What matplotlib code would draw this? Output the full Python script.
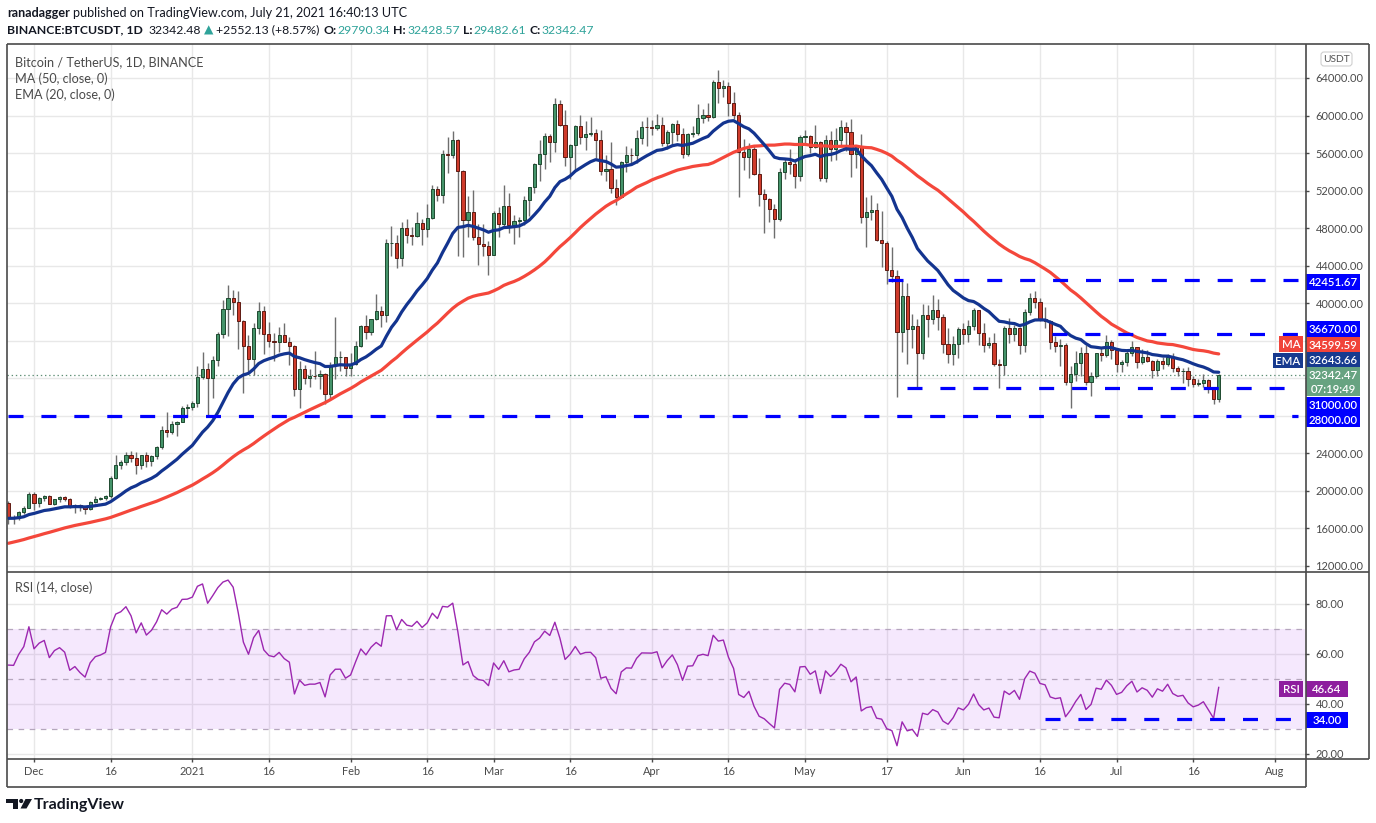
import matplotlib
matplotlib.use("Agg")
import matplotlib.pyplot as plt
import numpy as np
import pandas as pd
from matplotlib.patches import Rectangle, FancyBboxPatch, Polygon, Circle

plt.rcParams['font.family'] = ['Lato', 'DejaVu Sans']
plt.rcParams['lines.scale_dashes'] = False

# ---------------- data (BINANCE BTCUSDT, 1D) ----------------
# closes before the visible window (Sep 17 - Nov 25, 2020), only used to warm up indicators
warmup_closes = [
    10940, 10933, 11080, 10920, 10417, 10530, 10241, 10736, 10686, 10728,
    10775, 10709, 10845, 10776, 10620, 10570, 10547, 10666, 10792, 10600,
    10670, 10925, 11050, 11297, 11385, 11545, 11427, 11429, 11505, 11320,
    11362, 11505, 11751, 11910, 12801, 12966, 12931, 13109, 13032, 13071,
    13640, 13271, 13456, 13561, 13792, 13762, 13550, 14025, 14142, 15591,
    15580, 14840, 15479, 15332, 15290, 15701, 16277, 16317, 16068, 15957,
    16714, 17645, 17804, 17818, 18655, 18704, 18414, 18368, 19159, 18720,
]

# visible candles: Nov 26, 2020 ... Jul 21, 2021
opens = [
    18730, 17150, 17139, 17720, 18185,
    19696, 18765, 19205, 19422, 18650, 19148, 19359, 19166, 18324, 18541, 18254, 18036, 18808, 19175, 19273, 19426,
    21335, 22797, 23107, 23821, 23455, 22719, 23810, 23232, 23729, 24712, 26493, 26281, 27079, 27385, 28876,
    28923, 29331, 32178, 33000, 31988, 33949, 36769, 39432, 40582, 40088, 38150, 35404, 34051, 37371, 39144, 36742,
    35994, 35828, 36631, 35891, 35468, 30850, 32945, 32078, 32259, 32254, 32467, 30366, 33364, 34252, 34262,
    33092, 33526, 35466, 37618, 36936, 38290, 39186, 38795, 46374, 46420, 44807, 47969, 47287, 47153, 48577, 47911,
    49133, 52119, 51552, 55906, 55841, 57408, 54087, 48891, 49676, 47073, 46276, 46106,
    45135, 49587, 48440, 50349, 48374, 48751, 48882, 50971, 52376, 54885, 55851, 57773, 57221, 61188, 58968, 55605,
    56900, 58913, 57665, 58075, 58107, 57351, 54083, 54340, 52303, 51293, 55025, 55817, 55777, 57635, 58746,
    58740, 58721, 58959, 57059, 58202, 59130, 57991, 55953, 58077, 58142, 59770, 60007, 59860, 63575, 62959,
    63159, 61334, 60006, 56150, 55633, 56425, 53787, 51690, 51125, 50048, 49004, 54021, 55033, 54824, 53555,
    57750, 57828, 56631, 57200, 53333, 57424, 56397, 57356, 58803, 58232, 55859, 56704, 49150, 49716, 49880,
    46760, 46456, 43537, 42909, 36964, 40784, 37280, 37528, 34655, 38796, 38324, 39241, 38529, 35664, 34605, 35641,
    37254, 36693, 37568, 39246, 36829, 35513, 35797, 33552, 33380, 37388, 36675, 37331, 35546, 39020, 40516,
    40144, 38349, 38092, 35820, 35483, 35600, 31608, 32509, 33678, 34663, 31584, 32283, 34700, 34494, 35911,
    35045, 33504, 33786, 34669, 35287, 33690, 34220, 33863, 32875, 33815, 33502, 34259, 33086, 32729, 32820,
    31880, 31383, 31520, 31778, 30839, 29790.34,
]
highs = [
    18915, 17457, 17853, 18344, 19863,
    19888, 19342, 19566, 19527, 19177, 19420, 19420, 19294, 18639, 18557, 18292, 18948, 19411, 19349, 19570, 21560,
    23800, 23285, 24171, 24295, 24102, 23837, 24100, 23789, 24789, 26867, 28422, 27500, 27410, 28996, 29300,
    29600, 33300, 34778, 33600, 34360, 36939, 40365, 41950, 41380, 41350, 38264, 36628, 37850, 40100, 39747, 37950,
    36852, 37469, 37850, 36415, 35600, 33826, 33456, 32946, 34875, 32921, 32557, 33783, 38531, 34933, 34288,
    34717, 35984, 37662, 38708, 38310, 40955, 39700, 46794, 48200, 47310, 48678, 48985, 48150, 49707, 49010, 50526,
    52618, 52530, 56368, 57700, 58352, 57533, 54183, 51374, 52041, 48424, 48395, 46638,
    49790, 50200, 52640, 51773, 49448, 49200, 51450, 52402, 54900, 57387, 58150, 58058, 61844, 61683, 60633, 56938,
    58982, 60100, 59451, 59880, 58592, 58430, 55830, 57200, 53230, 55137, 56700, 56559, 58405, 59368, 59800,
    59490, 60200, 59791, 58500, 59251, 59475, 58650, 58153, 58869, 61215, 60683, 61300, 63777, 64854, 63800,
    63520, 62506, 60400, 57526, 57076, 56757, 55460, 52130, 51166, 50567, 54356, 55475, 56428, 55195, 57963,
    58458, 57911, 58981, 57250, 57964, 58360, 58650, 59500, 59300, 59595, 56890, 58000, 51367, 51483, 50700,
    49800, 46643, 45950, 43546, 42451.67, 42200, 38829, 38270, 39920, 39791, 40900, 40411, 38877, 37338, 36488, 37499,
    37894, 38225, 39476, 39289, 37917, 36400, 36790, 34068, 37534, 38400, 37680, 37463, 39380, 41064, 41330,
    40528, 39559, 38202, 36457, 36137, 35750, 33298, 34881, 35298, 35500, 32700, 34749, 35297, 36600, 36100,
    35060, 33977, 34909, 35967, 35293, 35118, 35059, 33928, 34100, 34262, 34592, 34666, 33340, 33114, 33185,
    32249, 31949, 32435, 31899, 31063, 32428.57,
]
lows = [
    16500, 16438, 16865, 17517, 18180,
    18001, 18330, 18925, 18565, 18500, 18857, 18902, 18200, 17650, 17911, 17572, 18020, 18711, 19000, 19050, 19278,
    21230, 22350, 22750, 23060, 21815, 22353, 22600, 22703, 23433, 24500, 25700, 26101, 25880, 27320, 27850,
    28624, 28946, 31962, 28130, 29900, 33288, 36300, 36500, 38720, 35111, 30420, 32531, 32380, 36701, 34538, 35357,
    33850, 34800, 35844, 33400, 30071, 28850, 31390, 31100, 31910, 30837, 29241, 29842, 31915, 32825, 32270,
    32296, 33418, 35362, 36161, 36570, 38215, 37446, 37988, 45020, 43727, 43994, 46400, 46202, 47014, 46174, 47003,
    48947, 50901, 50710, 53863, 55477, 45000, 44892, 47003, 46700, 44106, 45000, 43000,
    45115, 47047, 48100, 47500, 46300, 47070, 48300, 49274, 51789, 53005, 54269, 55013, 56079, 58900, 54600, 53271,
    54123, 56933, 56283, 57820, 55450, 53650, 53000, 51700, 50427, 51200, 53950, 54691, 54901, 57000, 56769,
    57935, 58435, 56800, 56478, 56817, 57333, 55473, 55700, 57670, 57903, 59177, 59365, 59770, 61301, 62020,
    60000, 59580, 51300, 54221, 53329, 53695, 50400, 47500, 48657, 46930, 48753, 53222, 53813, 52330, 53013,
    57052, 56035, 56590, 53046, 52900, 55200, 55241, 56900, 56235, 53400, 54370, 48600, 46000, 48868, 46650,
    43825, 42001, 42250, 30000, 34850, 33488, 35200, 31111, 34031, 36419, 37800, 37134, 34684, 33632, 33379, 34153,
    35666, 35920, 37170, 35555, 34800, 35258, 33300, 31000, 32396, 35800, 35937, 34600, 34757, 38730, 39506,
    38116, 37365, 35129, 34833, 33336, 31251, 28805, 31683, 32286, 31275, 30151, 32000, 33862, 34225, 34017,
    32711, 32699, 33326, 34357, 33125, 33532, 33777, 32078, 32261, 33004, 33332, 32658, 32202, 31550, 31133,
    31020, 31179, 31108, 30407, 29278, 29482.61,
]
closes = [
    17150, 17139, 17720, 18185, 19696,
    18765, 19205, 19422, 18650, 19148, 19359, 19166, 18324, 18541, 18254, 18036, 18808, 19175, 19273, 19426, 21335,
    22797, 23107, 23821, 23455, 22719, 23810, 23232, 23729, 24712, 26493, 26281, 27079, 27385, 28876, 28923,
    29331, 32178, 33000, 31988, 33949, 36769, 39432, 40582, 40088, 38150, 35404, 34051, 37371, 39144, 36742, 35994,
    35828, 36631, 35891, 35468, 30850, 32945, 32078, 32259, 32254, 32467, 30366, 33364, 34252, 34262, 33092,
    33526, 35466, 37618, 36936, 38290, 39186, 38795, 46374, 46420, 44807, 47969, 47287, 47153, 48577, 47911, 49133,
    52119, 51552, 55906, 55841, 57408, 54087, 48891, 49676, 47073, 46276, 46106, 45135,
    49587, 48440, 50349, 48374, 48751, 48882, 50971, 52376, 54885, 55851, 57773, 57221, 61188, 58968, 55605, 56900,
    58913, 57665, 58075, 58107, 57351, 54083, 54340, 52303, 51293, 55025, 55817, 55777, 57635, 58746, 58740,
    58721, 58959, 57059, 58202, 59130, 57991, 55953, 58077, 58142, 59770, 60007, 59860, 63575, 62959, 63159,
    61334, 60006, 56150, 55633, 56425, 53787, 51690, 51125, 50048, 49004, 54021, 55033, 54824, 53555, 57750,
    57828, 56631, 57200, 53333, 57424, 56397, 57356, 58803, 58232, 55859, 56704, 49150, 49716, 49880, 46760,
    46456, 43537, 42909, 36964, 40784, 37280, 37528, 34655, 38796, 38324, 39241, 38529, 35664, 34605, 35641, 37254,
    36693, 37568, 39246, 36829, 35513, 35797, 33552, 33380, 37388, 36675, 37331, 35546, 39020, 40516, 40144,
    38349, 38092, 35820, 35483, 35600, 31608, 32509, 33678, 34663, 31584, 32283, 34700, 34494, 35911, 35045,
    33504, 33786, 34669, 35287, 33690, 34220, 33863, 32875, 33815, 33502, 34259, 33086, 32729, 32820, 31880,
    31383, 31520, 31778, 30839, 29790.34, 32342.47,
]

date_tick_days = [5, 20, 36, 51, 67, 82, 95, 110, 126, 141, 156, 172, 187, 202, 217, 232, 248]
date_tick_labels = ["Dec", "16", "2021", "16", "Feb", "16", "Mar", "16", "Apr", "16",
                    "May", "17", "Jun", "16", "Jul", "16", "Aug"]
price_ticks = list(range(12000, 64001, 4000))
hidden_price_ticks = [28000, 32000, 36000]   # covered by the right-hand value tags
rsi_ticks = [20, 40, 60, 80]

levels = [42451.67, 36670.00, 31000.00, 28000.00]
level_start_days = [172.3, 204.4, 176.0, 0.0]
rsi_level = 34.00
rsi_level_start = 203.0

ma_len, ema_len, rsi_len = 50, 20, 14
ma_label, ema_label, rsi_label = 34599.59, 32643.66, 46.64
last_price_label = 32342.47
countdown = "07:19:49"

n = len(closes)
assert len(opens) == n and len(highs) == n and len(lows) == n, (len(opens), len(highs), len(lows), n)

# ---------------- indicators ----------------
s = pd.Series(list(warmup_closes) + list(closes), dtype=float)
ma = s.rolling(ma_len).mean().to_numpy()[-n:]
ema = s.ewm(span=ema_len, adjust=False).mean().to_numpy()[-n:]
dlt = s.diff()
up = dlt.clip(lower=0)
dn = (-dlt).clip(lower=0)
rs = up.ewm(alpha=1 / rsi_len, adjust=False).mean() / dn.ewm(alpha=1 / rsi_len, adjust=False).mean()
rsi = (100 - 100 / (1 + rs)).to_numpy()[-n:]

# ---------------- figure layout ----------------
W, H = 1376, 823
fig = plt.figure(figsize=(W / 100, H / 100), dpi=100)
fig.patch.set_facecolor('white')

L, R = 7, 1305
T_main, B_main, B_rsi = 44, 571, 758

def fx(x): return x / W
def fy(y): return 1 - y / H

ax = fig.add_axes([fx(L), fy(B_main), (R - L) / W, (B_main - T_main) / H])
axr = fig.add_axes([fx(L), fy(B_rsi), (R - L) / W, (B_rsi - B_main) / H], sharex=ax)

GRID = '#e8e8e8'
AXC = '#4a4a4a'
for a in (ax, axr):
    for sp in a.spines.values():
        sp.set_visible(False)
    a.set_axisbelow(True)
    a.grid(True, color=GRID, linewidth=1.0)
    a.set_facecolor('white')

x = np.arange(n)
ax.set_xlim(-0.29, 253.9)
ax.set_ylim(11467, 67621)
axr.set_ylim(18.4, 93.2)

# candles
o = np.array(opens, float); h = np.array(highs, float)
lo = np.array(lows, float); c = np.array(closes, float)
upm = c >= o
ax.vlines(x, lo, h, color='#6e6e6e', linewidth=1.0, zorder=2)
body_bottom = np.minimum(o, c)
body_h = np.abs(c - o)
ax.bar(x[upm], body_h[upm], bottom=body_bottom[upm], width=0.62,
       color='#45946a', edgecolor='#1f4a30', linewidth=0.7, zorder=3)
ax.bar(x[~upm], body_h[~upm], bottom=body_bottom[~upm], width=0.62,
       color='#cf3b2b', edgecolor='#5e1a12', linewidth=0.7, zorder=3)

# moving averages
ax.plot(x, ma, color='#f4473b', linewidth=2.3, zorder=4, solid_capstyle='round')
ax.plot(x, ema, color='#13348f', linewidth=2.3, zorder=4, solid_capstyle='round')

# current price dotted line
ax.axhline(last_price_label, color='#5f8f76', linewidth=0.9, linestyle=(0, (1, 2)), zorder=1.5)

# blue horizontal levels
for lv, sd in zip(levels, level_start_days):
    ax.plot([sd, 252.5], [lv, lv], color='#0000ff', linewidth=2.3,
            linestyle=(0, (10.8, 12.9)), dash_capstyle='butt', zorder=5)

# axes ticks
ax.set_xticks(date_tick_days)
ax.tick_params(axis='x', which='both', bottom=False, labelbottom=False)
ax.yaxis.tick_right()
ax.set_yticks(price_ticks)
ax.set_yticklabels(["" if v in hidden_price_ticks else f"{v:.2f}" for v in price_ticks])
ax.tick_params(axis='y', direction='out', length=3, width=1, color=AXC, pad=4.5,
               labelsize=7.9, labelcolor=AXC)

# RSI pane
axr.axhspan(30, 70, facecolor='#a020f0', alpha=0.1, linewidth=0, zorder=1)
for lvl in (70, 50, 30):
    axr.axhline(lvl, color='#b5a6bd', linewidth=0.9, linestyle=(0, (4, 4)), zorder=1.2)
axr.plot(x, rsi, color='#9c27b0', linewidth=1.0, zorder=4)
axr.plot([rsi_level_start, 252.5], [rsi_level, rsi_level], color='#0000ff', linewidth=2.3,
         linestyle=(0, (10.8, 12.9)), dash_capstyle='butt', zorder=5)
axr.yaxis.tick_right()
axr.set_yticks(rsi_ticks)
axr.set_yticklabels([f"{v:.2f}" for v in rsi_ticks])
axr.tick_params(axis='y', direction='out', length=3, width=1, color=AXC, pad=4.5,
                labelsize=7.9, labelcolor=AXC)
axr.set_xticks(date_tick_days)
axr.set_xticklabels(date_tick_labels)
axr.tick_params(axis='x', direction='out', length=3, width=1, color=AXC, pad=3,
                labelsize=7.9, labelcolor=AXC)

# ---------------- overlay (pixel coordinates) ----------------
axf = fig.add_axes([0, 0, 1, 1], zorder=10)
axf.set_xlim(0, W)
axf.set_ylim(H, 0)
axf.axis('off')
axf.patch.set_alpha(0)

def hline(y, x0, x1, lw=1.2, col=AXC):
    axf.plot([x0, x1], [y, y], color=col, linewidth=lw, solid_capstyle='butt')

def vline(xp, y0, y1, lw=1.2, col=AXC):
    axf.plot([xp, xp], [y0, y1], color=col, linewidth=lw, solid_capstyle='butt')

hline(43.5, 6.5, 1368.5)
hline(571.5, 6.5, 1368.5)
hline(758.5, 6.5, 1368.5)
hline(786.5, 6.5, 1305.5)
vline(6.5, 43.5, 786.5)
vline(1305.5, 43.5, 786.5)
vline(1368.5, 43.5, 758.5)

renderer = fig.canvas.get_renderer()
DARK = '#131722'
TEAL = '#2fa39a'

def put_seq(x0, y, pieces, size):
    xx = x0
    for gap, txt, weight, col in pieces:
        xx += gap
        t = axf.text(xx, y, txt, fontsize=size, fontweight=weight, color=col,
                     ha='left', va='center')
        bb = t.get_window_extent(renderer)
        xx = bb.x1
    return xx

put_seq(7, 13, [(0, "ranadagger", 'bold', DARK),
                (3.5, "published on TradingView.com, July 21, 2021 16:40:13 UTC", 'normal', DARK)], 9.1)
put_seq(7, 30, [(0, "BINANCE:BTCUSDT, 1D", 'bold', DARK),
                (5.5, "32342.48", 'normal', DARK),
                (3, "▲", 'normal', TEAL),
                (3, "+2552.13 (+8.57%)", 'normal', DARK),
                (3.5, "O:", 'bold', DARK), (1, "29790.34", 'normal', TEAL),
                (3.5, "H:", 'bold', DARK), (1, "32428.57", 'normal', TEAL),
                (3.5, "L:", 'bold', DARK), (1, "29482.61", 'normal', TEAL),
                (3.5, "C:", 'bold', DARK), (1, "32342.47", 'normal', TEAL)], 8.85)

LEG = '#4a4a4a'
axf.text(15, 62, "Bitcoin / TetherUS, 1D, BINANCE", fontsize=9.1, color=LEG, ha='left', va='center')
axf.text(15, 79, "MA (50, close, 0)", fontsize=9.1, color=LEG, ha='left', va='center')
axf.text(15, 95, "EMA (20, close, 0)", fontsize=9.1, color=LEG, ha='left', va='center')
axf.text(15, 588, "RSI (14, close)", fontsize=9.1, color=LEG, ha='left', va='center')

# USDT tag
axf.add_patch(FancyBboxPatch((1321, 52), 31, 14, boxstyle="round,pad=0,rounding_size=3",
                             facecolor='white', edgecolor='#cfcfcf', linewidth=0.8))
axf.text(1336.5, 59.5, "USDT", fontsize=7.4, color='#555555', ha='center', va='center')

def box(x0, y0, x1, y1, col, txt=None, tsize=8.2, tcol='white', weight='semibold'):
    axf.add_patch(Rectangle((x0, y0), x1 - x0, y1 - y0, facecolor=col, edgecolor='none'))
    if txt is not None:
        axf.text((x0 + x1) / 2, (y0 + y1) / 2 + 0.5, txt, fontsize=tsize, color=tcol,
                 ha='center', va='center', fontweight=weight)

BLUE = '#0000ff'
MAC = '#f0443a'
EMAC = '#173a8f'
PRC = '#67a381'
RSIC = '#8e1e9e'

box(1306, 274, 1360, 290, BLUE, f"{levels[0]:.2f}")
box(1306, 321, 1360, 337, BLUE, f"{levels[1]:.2f}")
box(1279, 336, 1303, 352, MAC, "MA")
box(1306, 337, 1360, 352, MAC, f"{ma_label:.2f}")
box(1273, 353, 1303, 368, EMAC, "EMA")
box(1306, 352, 1360, 367, EMAC, f"{ema_label:.2f}")
box(1306, 367, 1360, 396, PRC)
axf.text(1333, 375.5, f"{last_price_label:.2f}", fontsize=8.2, color='white', ha='center',
         va='center', fontweight='semibold')
axf.text(1333, 389, countdown, fontsize=8.2, color='white', ha='center', va='center',
         fontweight='semibold')
box(1306, 397, 1360, 412, BLUE, f"{levels[2]:.2f}")
box(1306, 412, 1360, 427, BLUE, f"{levels[3]:.2f}")
box(1279, 681, 1303, 697, RSIC, "RSI")
box(1306, 681, 1348, 697, RSIC, f"{rsi_label:.2f}")
box(1306, 712, 1348, 728, BLUE, f"{rsi_level:.2f}")

# TradingView logo
axf.add_patch(Polygon([(6, 799), (18, 799), (18, 808.5), (12.5, 808.5), (12.5, 803), (6, 803)],
                      closed=True, facecolor=DARK, edgecolor='none'))
axf.add_patch(Circle((21.2, 801), 2.1, facecolor=DARK, edgecolor='none'))
axf.add_patch(Polygon([(25.5, 799), (32, 799), (26.5, 808.5), (20.5, 808.5)],
                      closed=True, facecolor=DARK, edgecolor='none'))
axf.text(34, 805, "TradingView", fontsize=11.5, fontweight='bold', color=DARK,
         ha='left', va='center')

fig.savefig("out.png", dpi=100, facecolor='white')
